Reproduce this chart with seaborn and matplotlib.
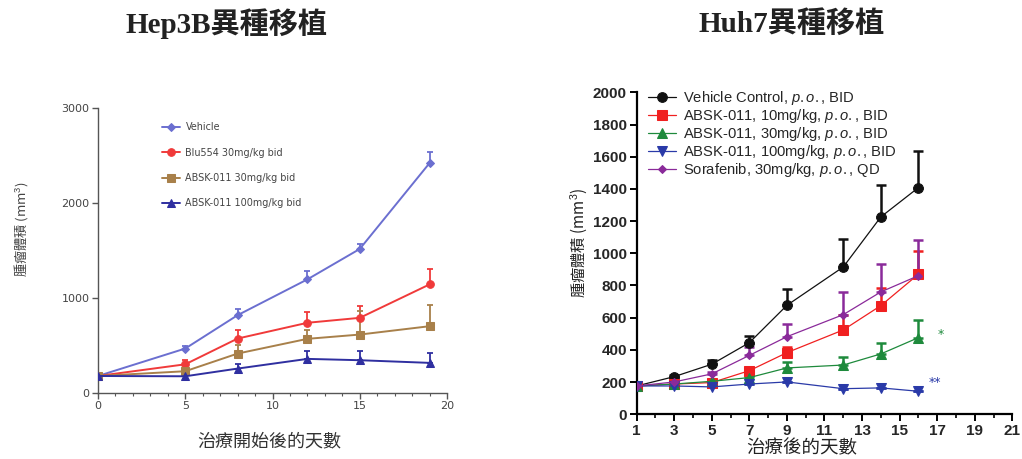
import numpy as np
import pandas as pd
import matplotlib
matplotlib.use("Agg")
import matplotlib.pyplot as plt
import seaborn as sns

sns.set_theme(style="white")
plt.rcParams['font.family'] = ['DejaVu Sans', 'Noto Sans CJK TC']
plt.rcParams['mathtext.fontset'] = 'custom'
plt.rcParams['mathtext.it'] = 'Liberation Sans:italic'
plt.rcParams['mathtext.rm'] = 'Liberation Sans'

# ---------------- Hep3B data ----------------
hep_days = [0, 5, 8, 12, 15, 19]
hep_names = ["Vehicle", "Blu554 30mg/kg bid", "ABSK-011 30mg/kg bid", "ABSK-011 100mg/kg bid"]
hep_vehicle = [179, 468, 819, 1196, 1516, 2420]
hep_vehicle_err = [0, 30, 64, 88, 53, 116]
hep_blu = [179, 302, 573, 739, 791, 1143]
hep_blu_err = [0, 43, 88, 109, 127, 162]
hep_absk30 = [179, 229, 415, 570, 615, 703]
hep_absk30_err = [0, 20, 90, 91, 250, 222]
hep_absk100 = [179, 176, 257, 359, 345, 317]
hep_absk100_err = [0, 0, 53, 84, 98, 105]
hep_colors = ["#6b6fd0", "#f03a3a", "#a8804a", "#2f2fa0"]
hep_markers = ["D", "o", "s", "^"]
hep_msizes = [4, 5.5, 5.5, 6]

# ---------------- Huh7 data ----------------
huh_days = [1, 3, 5, 7, 9, 12, 14, 16]
huh_names = ["Vehicle Control, $\\mathit{p.o.}$, BID",
             "ABSK-011, 10mg/kg, $\\mathit{p.o.}$, BID",
             "ABSK-011, 30mg/kg, $\\mathit{p.o.}$, BID",
             "ABSK-011, 100mg/kg, $\\mathit{p.o.}$, BID",
             "Sorafenib, 30mg/kg, $\\mathit{p.o.}$, QD"]
huh_vehicle = [176, 234, 311, 445, 677, 915, 1226, 1408]
huh_vehicle_err = [0, 8, 26, 42, 104, 176, 201, 226]
huh_10 = [176, 188, 197, 271, 383, 524, 675, 870]
huh_10_err = [0, 6, 8, 10, 37, 93, 108, 145]
huh_30 = [176, 188, 205, 228, 288, 306, 375, 476]
huh_30_err = [0, 5, 8, 10, 35, 48, 70, 110]
huh_100 = [176, 176, 170, 188, 201, 159, 164, 143]
huh_100_err = [0, 0, 0, 0, 0, 0, 0, 0]
huh_sora = [176, 201, 251, 366, 482, 619, 760, 861]
huh_sora_err = [0, 6, 12, 54, 77, 141, 172, 222]
huh_colors = ["#111111", "#f02020", "#1e8a3c", "#2a3aa8", "#8a2a9a"]
huh_markers = ["o", "s", "^", "v", "D"]
huh_msizes = [7, 7, 6.5, 6.5, 4.5]

fig = plt.figure(figsize=(10.22, 4.59), dpi=100)

# ---------------- Left axes ----------------
axL = fig.add_axes([0.0959, 0.1438, 0.3415, 0.621])
hep_series = [hep_vehicle, hep_blu, hep_absk30, hep_absk100]
hep_errs = [hep_vehicle_err, hep_blu_err, hep_absk30_err, hep_absk100_err]
for name, vals, errs, c, m, ms in zip(hep_names, hep_series, hep_errs, hep_colors, hep_markers, hep_msizes):
    df = pd.DataFrame({"day": hep_days, "vol": vals})
    axL.errorbar(hep_days, vals, yerr=[np.zeros(len(vals)), errs], fmt="none",
                 ecolor=c, elinewidth=1.3, capsize=2.5, capthick=1.3, zorder=2)
    sns.lineplot(data=df, x="day", y="vol", ax=axL, color=c, marker=m, markersize=ms,
                 markeredgecolor=c, linewidth=1.4, label=name, zorder=3)
axL.set_xlim(0, 20)
axL.set_ylim(0, 3000)
axL.set_xticks([0, 5, 10, 15, 20])
axL.set_xticks(np.arange(0, 21, 1), minor=True)
axL.set_yticks([0, 1000, 2000, 3000])
for s in ["top", "right"]:
    axL.spines[s].set_visible(False)
for s in ["left", "bottom"]:
    axL.spines[s].set_color("#555555")
    axL.spines[s].set_linewidth(1.0)
axL.tick_params(axis="both", which="major", direction="out", length=4, width=1,
                color="#555555", labelsize=8, labelcolor="#444444", bottom=True, left=True, pad=2)
axL.tick_params(axis="x", which="minor", direction="out", length=2.5, width=0.8,
                color="#555555", bottom=True)
axL.set_xlabel("")
axL.set_ylabel("")
legL = axL.legend(loc="upper left", bbox_to_anchor=(0.16, 0.98), frameon=False,
                  fontsize=6.9, handlelength=1.8, labelspacing=1.6, handletextpad=0.6,
                  labelcolor="#444444")
fig.text(0.021, 0.50, "腫瘤體積 (mm$^3$)", rotation=90, ha="center", va="center",
         fontsize=9.5, color="#444444", family=['Noto Sans CJK TC', 'DejaVu Sans'])
fig.text(0.263, 0.038, "治療開始後的天數", ha="center", va="center",
         fontsize=13, color="#333333", family=['Noto Sans CJK TC'])

# ---------------- Right axes ----------------
axR = fig.add_axes([0.623, 0.0974, 0.3675, 0.7015])
huh_series = [huh_vehicle, huh_10, huh_30, huh_100, huh_sora]
huh_errs = [huh_vehicle_err, huh_10_err, huh_30_err, huh_100_err, huh_sora_err]
for name, vals, errs, c, m, ms in zip(huh_names, huh_series, huh_errs, huh_colors, huh_markers, huh_msizes):
    df = pd.DataFrame({"day": huh_days, "vol": vals})
    axR.errorbar(huh_days, vals, yerr=[np.zeros(len(vals)), errs], fmt="none",
                 ecolor=c, elinewidth=1.8, capsize=3.5, capthick=1.8, zorder=2)
    sns.lineplot(data=df, x="day", y="vol", ax=axR, color=c, marker=m, markersize=ms,
                 markeredgecolor=c, linewidth=0.9, label=name, zorder=3)
axR.text(17.2, 495, "*", color=huh_colors[2], fontsize=9, ha="center", va="center")
axR.text(16.9, 200, "**", color=huh_colors[3], fontsize=9, ha="center", va="center")
axR.set_xlim(1, 21)
axR.set_ylim(0, 2000)
axR.set_xticks(np.arange(1, 22, 2))
axR.set_xticks(np.arange(1, 22, 1), minor=True)
axR.set_yticks(np.arange(0, 2001, 200))
for s in ["top", "right"]:
    axR.spines[s].set_visible(False)
for s in ["left", "bottom"]:
    axR.spines[s].set_color("black")
    axR.spines[s].set_linewidth(1.6)
axR.tick_params(axis="both", which="major", direction="out", length=5, width=1.4,
                color="black", labelsize=11, bottom=True, left=True, pad=2)
axR.tick_params(axis="x", which="minor", direction="out", length=3, width=1.2,
                color="black", bottom=True)
for lab in axR.get_xticklabels() + axR.get_yticklabels():
    lab.set_fontweight("bold")
    lab.set_family("Liberation Sans")
axR.set_xlabel("")
axR.set_ylabel("")
legR = axR.legend(loc="upper left", bbox_to_anchor=(-0.005, 1.05), frameon=False,
                  handlelength=1.9, labelspacing=0.0, handletextpad=0.5,
                  prop={"family": "Liberation Sans", "size": 10.6})
fig.text(0.566, 0.47, "腫瘤體積 (mm$^3$)", rotation=90, ha="center", va="center",
         fontsize=11, color="#222222", family=['Noto Sans CJK TC', 'DejaVu Sans'])
fig.text(0.784, 0.024, "治療後的天數", ha="center", va="center",
         fontsize=13.3, color="#222222", family=['Noto Sans CJK TC'])

# ---------------- Titles ----------------
fig.text(0.222, 0.948, "Hep3B異種移植", ha="center", va="center", fontsize=21,
         fontweight="bold", family=['Liberation Serif', 'Noto Sans CJK TC'], color="#222222")
fig.text(0.775, 0.948, "Huh7異種移植", ha="center", va="center", fontsize=21,
         fontweight="bold", family=['Liberation Serif', 'Noto Sans CJK TC'], color="#222222")

fig.savefig("out.png", dpi=100)
